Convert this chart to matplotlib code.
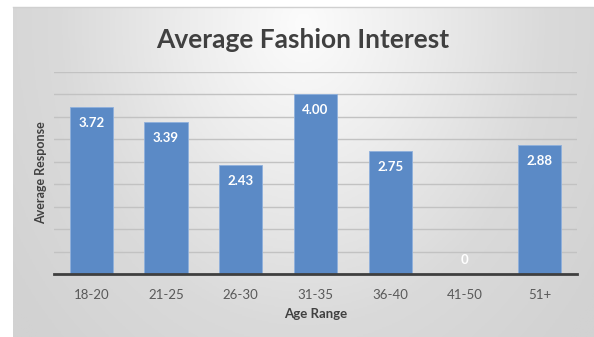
import numpy as np
import matplotlib
matplotlib.use("Agg")
import matplotlib.pyplot as plt
from matplotlib.colors import LinearSegmentedColormap

# Survey results: average response by age range
age_ranges = ["18-20", "21-25", "26-30", "31-35", "36-40", "41-50", "51+"]
avg_response = [3.72, 3.39, 2.43, 4.00, 2.75, 0, 2.88]
value_labels = ["3.72", "3.39", "2.43", "4.00", "2.75", "0", "2.88"]

W, H = 594, 337
fig = plt.figure(figsize=(W / 100, H / 100), dpi=100)
fig.patch.set_facecolor("white")

# Chart-area panel with a soft radial gradient
bg = fig.add_axes([13 / W, 0, (W - 13) / W, (H - 7) / H])
bg.set_axis_off()
nx, ny = 400, 240
xx, yy = np.meshgrid(np.linspace(-1, 1, nx), np.linspace(0, 1, ny))
r = np.sqrt((xx / 1.0) ** 2 + ((yy - 0.05) / 1.1) ** 2)
r = np.clip(r / 1.25, 0, 1)
cmap = LinearSegmentedColormap.from_list("panel", ["#fcfcfc", "#ececec", "#dadada", "#d2d2d2"])
bg.imshow(r, cmap=cmap, aspect="auto", extent=[0, 1, 0, 1], vmin=0, vmax=1)
bg.plot([0, 1], [1, 1], color="#d0d0d0", lw=1, transform=bg.transAxes, clip_on=False)
bg.set_xlim(0, 1)
bg.set_ylim(0, 1)

ax = fig.add_axes([54 / W, (H - 274) / H, (577 - 54) / W, (274 - 72) / H])
ax.set_facecolor("none")
x = np.arange(len(age_ranges))
bars = ax.bar(x, avg_response, width=0.58, color="#5b8ac6", edgecolor="#8fb0dc",
              linewidth=0.6, zorder=3)

ax.set_xlim(-0.5, len(age_ranges) - 0.5)
ax.set_ylim(0, 4.5)
ax.set_yticks(np.arange(0, 4.51, 0.5))
ax.yaxis.grid(True, color="#c2c2c2", linewidth=1)
ax.set_axisbelow(True)
ax.tick_params(axis="y", left=False, labelleft=False)
ax.tick_params(axis="x", bottom=False, labelsize=9.5, labelcolor="#595959", pad=7)
ax.set_xticks(x)
ax.set_xticklabels(age_ranges, family="Lato")
for s in ["top", "right", "left"]:
    ax.spines[s].set_visible(False)
ax.spines["bottom"].set_color("#3f3f3f")
ax.spines["bottom"].set_linewidth(2)
ax.spines["bottom"].set_zorder(4)

for xi, val, lab in zip(x, avg_response, value_labels):
    off = -16 if val > 0 else 14
    ax.annotate(lab, (xi, val), xytext=(0, off), textcoords="offset pixels",
                ha="center", va="center", color="white", fontsize=9.5, fontweight="bold",
                family="Lato", zorder=5)

ax.set_xlabel("Age Range", fontsize=9.5, fontweight="bold", color="#404040", family="Lato", labelpad=5)
ax.set_ylabel("Average Response", fontsize=9, fontweight="bold", color="#404040", family="Lato", labelpad=5)

fig.text(303 / W, 1 - 40 / H, "Average Fashion Interest", ha="center", va="center",
         fontsize=19, fontweight="bold", color="#404040", family="Lato")

fig.savefig("out.png", dpi=100)
